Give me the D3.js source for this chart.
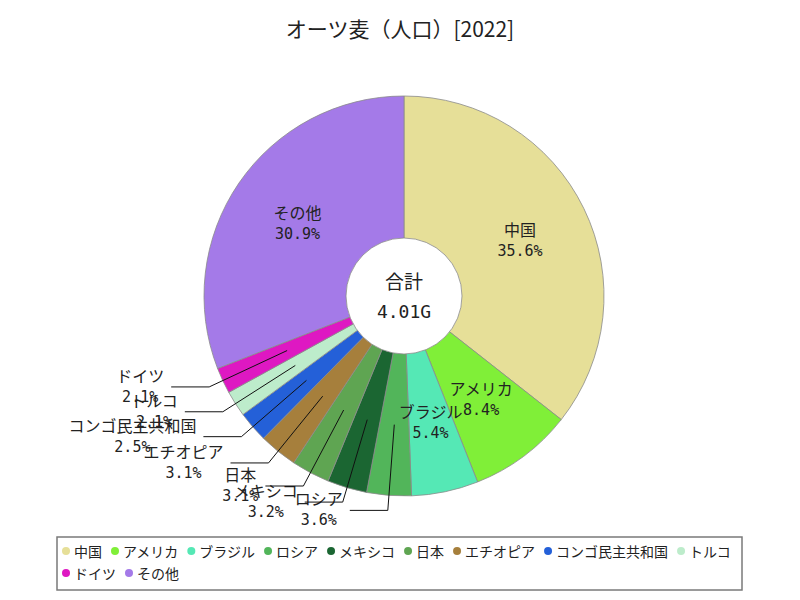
<!DOCTYPE html>
<html>
<head>
<meta charset="utf-8">
<script src="https://cdn.jsdelivr.net/npm/d3@7"></script>
<style>
  body { margin: 0; background: #fff; }
  text { font-family: "Noto Sans CJK JP", sans-serif; fill: #222; }
  .num { font-family: "DejaVu Sans Mono", "Noto Sans CJK JP", monospace; }
</style>
</head>
<body>
<svg width="800" height="600"></svg>
<script>
var names = ["中国", "アメリカ", "ブラジル", "ロシア", "メキシコ", "日本", "エチオピア", "コンゴ民主共和国", "トルコ", "ドイツ", "その他"];
// billions of people-equivalent (total 4.01G)
var values = [1.4276, 0.3368, 0.2165, 0.1444, 0.1283, 0.1243, 0.1243, 0.1003, 0.0842, 0.0842, 1.2391];
var colors = ["#e6df98", "#80ef38", "#55e8b5", "#52b55a", "#1b6632", "#5fa552", "#a67f3c", "#2460d8", "#bdeccb", "#de18c2", "#a47ae8"];
var totalLabel = "4.01G";
var title = "オーツ麦（人口）[2022]";

var svg = d3.select("svg"),
    cx = 404, cy = 296,
    outerR = 200, innerR = 58,
    g = svg.append("g").attr("transform", "translate(" + cx + "," + cy + ")");

svg.append("text")
    .attr("x", 400).attr("y", 28)
    .attr("text-anchor", "middle")
    .attr("dominant-baseline", "central")
    .attr("font-size", 21)
    .text(title);

var data = names.map(function(n, i) { return {name: n, value: values[i], color: colors[i]}; });
var total = d3.sum(values);

var pie = d3.pie().sort(null).value(function(d) { return d.value; });
var arcs = pie(data);

var arc = d3.arc().innerRadius(0).outerRadius(outerR);

g.selectAll("path.slice")
  .data(arcs)
  .enter().append("path")
    .attr("class", "slice")
    .attr("d", arc)
    .attr("fill", function(d) { return d.data.color; })
    .attr("stroke", "#8a8a8a")
    .attr("stroke-width", 0.8);

// hole
g.append("circle")
    .attr("r", innerR)
    .attr("fill", "#fff")
    .attr("stroke", "#8a8a8a")
    .attr("stroke-width", 0.8);

g.append("text")
    .attr("y", -16)
    .attr("text-anchor", "middle")
    .attr("dominant-baseline", "central")
    .attr("font-size", 19)
    .text("合計");
g.append("text")
    .attr("class", "num")
    .attr("y", 15)
    .attr("text-anchor", "middle")
    .attr("dominant-baseline", "central")
    .attr("font-size", 18)
    .text(totalLabel);

var midR = (innerR + outerR) / 2,
    elbowR = 215,
    len2 = 38;

function pt(a, r) { return [Math.sin(a) * r, -Math.cos(a) * r]; }
function pct(d) { return (d.data.value / total * 100).toFixed(1) + "%"; }

arcs.forEach(function(d) {
  var a = (d.startAngle + d.endAngle) / 2;
  var share = d.data.value / total;
  if (share >= 0.04) {
    var p = pt(a, midR);
    g.append("text")
        .attr("x", p[0]).attr("y", p[1] - 11)
        .attr("text-anchor", "middle")
        .attr("dominant-baseline", "central")
        .attr("font-size", 16)
        .text(d.data.name);
    g.append("text")
        .attr("class", "num")
        .attr("x", p[0]).attr("y", p[1] + 11)
        .attr("text-anchor", "middle")
        .attr("dominant-baseline", "central")
        .attr("font-size", 15)
        .text(pct(d));
  } else {
    var p0 = pt(a, midR), p1 = pt(a, elbowR);
    var dir = p1[0] < 0 ? -1 : 1;
    var p2 = [p1[0] + dir * len2, p1[1]];
    g.append("polyline")
        .attr("points", [p0, p1, p2].map(function(q) { return q.join(","); }).join(" "))
        .attr("fill", "none")
        .attr("stroke", "#111")
        .attr("stroke-width", 1);
    var t1 = g.append("text")
        .attr("y", p2[1] - 12)
        .attr("text-anchor", "middle")
        .attr("dominant-baseline", "central")
        .attr("font-size", 16)
        .text(d.data.name);
    var t2 = g.append("text")
        .attr("class", "num")
        .attr("y", p2[1] + 10)
        .attr("text-anchor", "middle")
        .attr("dominant-baseline", "central")
        .attr("font-size", 15)
        .text(pct(d));
    var w = Math.max(t1.node().getComputedTextLength(), t2.node().getComputedTextLength());
    var x = p2[0] + dir * (7 + w / 2);
    t1.attr("x", x);
    t2.attr("x", x);
  }
});

// legend
var lg = svg.append("g");
lg.append("rect")
    .attr("x", 57).attr("y", 537)
    .attr("width", 685).attr("height", 53)
    .attr("fill", "#fff")
    .attr("stroke", "#7a7a7a")
    .attr("stroke-width", 1.5);

var lx = 66, ly = 551, rowH = 22, right = 740;
data.forEach(function(d) {
  var item = lg.append("g");
  item.append("circle").attr("r", 4).attr("fill", d.color);
  var t = item.append("text")
      .attr("x", 8)
      .attr("dominant-baseline", "central")
      .attr("font-size", 14)
      .text(d.name);
  var w = 8 + t.node().getComputedTextLength();
  if (lx + w > right) { lx = 66; ly += rowH; }
  item.attr("transform", "translate(" + lx + "," + ly + ")");
  lx += w + 13;
});
</script>
</body>
</html>
